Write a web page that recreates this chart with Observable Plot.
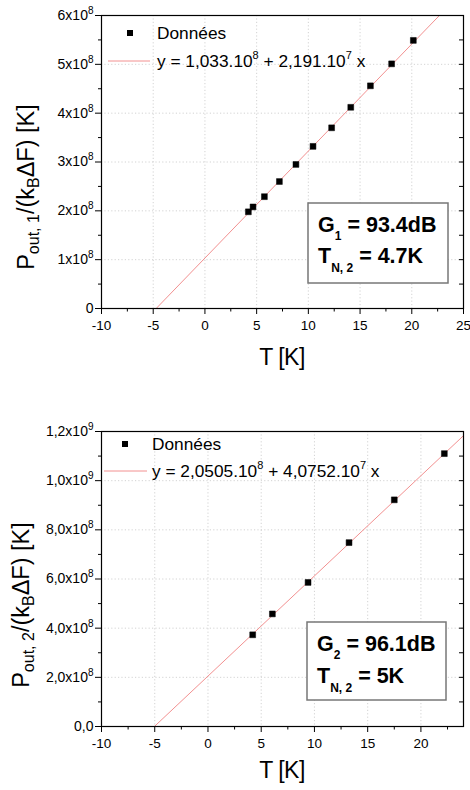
<!DOCTYPE html>
<html><head><meta charset="utf-8">
<script src="https://cdn.jsdelivr.net/npm/d3@7"></script>
<script src="https://cdn.jsdelivr.net/npm/@observablehq/plot@0.6"></script>
<style>
body{margin:0;background:#fff;}
.panel{width:470px;height:395px;}
svg{display:block}
</style></head><body>
<div id="c1" class="panel"></div><div id="c2" class="panel"></div>
<script>
const FONT = '"Liberation Sans", Arial, Helvetica, sans-serif';

// ---------- Panel 1 data ----------
const t1 = [4.2, 4.65, 5.75, 7.2, 8.8, 10.45, 12.25, 14.1, 16.0, 18.05, 20.15];
const p1 = [1.98e8, 2.08e8, 2.29e8, 2.60e8, 2.95e8, 3.32e8, 3.70e8, 4.12e8, 4.56e8, 5.01e8, 5.49e8];
const fit1Intercept = 1.033e8;
const fit1Slope = 2.191e7;
const xTicks1 = [-10, -5, 0, 5, 10, 15, 20, 25];
const yTicks1 = [0, 1e8, 2e8, 3e8, 4e8, 5e8, 6e8];
const yTickLabels1 = ["0", "1x10⁸", "2x10⁸", "3x10⁸", "4x10⁸", "5x10⁸", "6x10⁸"];

// ---------- Panel 2 data ----------
const t2 = [4.2, 6.05, 9.4, 13.25, 17.5, 22.2];
const p2 = [3.73e8, 4.58e8, 5.86e8, 7.48e8, 9.22e8, 1.11e9];
const fit2Intercept = 2.0505e8;
const fit2Slope = 4.0752e7;
const xTicks2 = [-10, -5, 0, 5, 10, 15, 20];
const yTicks2 = [0, 2e8, 4e8, 6e8, 8e8, 1e9, 1.2e9];
const yTickLabels2 = ["0,0", "2,0x10⁸", "4,0x10⁸", "6,0x10⁸", "8,0x10⁸", "1,0x10⁹", "1,2x10⁹"];

const SUP = {"⁰":"0","¹":"1","²":"2","³":"3","⁴":"4","⁵":"5","⁶":"6","⁷":"7","⁸":"8","⁹":"9"};

function minorBetween(ticks, extraEnd) {
  const out = [];
  for (let i = 0; i < ticks.length - 1; i++) out.push((ticks[i] + ticks[i + 1]) / 2);
  if (extraEnd != null) out.push(extraEnd);
  return out;
}

function makePanel(cfg) {
  const data = cfg.t.map((t, i) => ({T: t, P: cfg.p[i]}));
  const [x0, x1] = cfg.xDomain, [y0, y1] = cfg.yDomain;
  const xa = Math.max(x0, (y0 - cfg.b) / cfg.m);
  const xb = Math.min(x1, (y1 - cfg.b) / cfg.m);
  const fit = [xa, xb].map(x => ({T: x, P: cfg.b + cfg.m * x}));
  const yLab = new Map(cfg.yTicks.map((v, i) => [v, cfg.yLabels[i]]));
  const xMinor = minorBetween(cfg.xTicks, cfg.xMinorExtra);
  const yMinor = minorBetween(cfg.yTicks);
  const rightTicks = cfg.yTicks.concat(yMinor);
  const inward = (x1 - x0) * 0.011;
  const gridStyle = {stroke: "#c8c8c8", strokeOpacity: 1, strokeDasharray: "1.2,2.2", strokeWidth: 0.8};

  const svg = Plot.plot({
    width: 470, height: 395,
    marginLeft: 101, marginRight: 7, marginTop: cfg.mt, marginBottom: cfg.mb,
    style: {fontFamily: FONT, background: "#fff", color: "#000"},
    x: {domain: cfg.xDomain, label: null},
    y: {domain: cfg.yDomain, label: null},
    marks: [
      Plot.gridX(cfg.xTicks, gridStyle),
      Plot.gridY(cfg.yTicks, gridStyle),
      Plot.line(fit, {x: "T", y: "P", stroke: "#f29090", strokeWidth: 1, clip: true}),
      Plot.dot(data, {x: "T", y: "P", symbol: "square", r: 3.3, fill: "#000", stroke: "#000", strokeWidth: 0.5}),
      Plot.axisX(cfg.xTicks, {tickSize: 6, tickPadding: 6, fontSize: 13.5, label: null, tickFormat: d => `${d}`}),
      Plot.axisX(xMinor, {tickSize: 3.5, label: null, tickFormat: () => ""}),
      Plot.axisY(cfg.yTicks, {tickSize: 6, tickPadding: 2, fontSize: 14, label: null, tickFormat: d => yLab.get(d)}),
      Plot.axisY(yMinor, {tickSize: 3, label: null, tickFormat: () => ""}),
      Plot.ruleY(rightTicks, {x1: x1 - inward, x2: x1, stroke: "#000", strokeWidth: 1}),
      Plot.frame({stroke: "#000", strokeWidth: 1.2})
    ]
  });

  const s = d3.select(svg);
  // turn unicode superscripts in y tick labels into raised tspans
  s.selectAll("text").each(function() {
    const txt = this.textContent;
    const m = txt.match(/^(.*x10)([⁰¹²³⁴⁵⁶⁷⁸⁹]+)$/);
    if (!m) return;
    const el = d3.select(this);
    el.text(null);
    el.append("tspan").text(m[1]);
    el.append("tspan").attr("font-size", 10).attr("dy", -6).text([...m[2]].map(c => SUP[c]).join(""));
  });

  // y label
  const yl = s.append("text").attr("transform", `translate(${cfg.ylx},${cfg.yly}) rotate(-90)`)
    .attr("text-anchor", "middle").attr("font-family", FONT).attr("font-size", 23.5).attr("fill", "#000");
  yl.append("tspan").text("P");
  yl.append("tspan").attr("font-size", 16).attr("dy", 5).text(cfg.sub);
  yl.append("tspan").attr("dy", -5).text("/(k");
  yl.append("tspan").attr("font-size", 16).attr("dy", 5).text("B");
  yl.append("tspan").attr("dy", -5).text("ΔF) [K]");
  // x label
  s.append("text").attr("x", 282).attr("y", cfg.xly).attr("text-anchor", "middle")
    .attr("font-family", FONT).attr("font-size", 23).attr("letter-spacing", -0.5).attr("fill", "#000").text("T [K]");

  // legend
  const L = cfg.leg;
  s.append("rect").attr("x", L.sx - 3).attr("y", L.sy - 3).attr("width", 6).attr("height", 6).attr("fill", "#000");
  s.append("text").attr("x", L.tx).attr("y", L.sy + 6).attr("text-anchor", "start").attr("font-family", FONT).attr("font-size", 17.3).attr("fill", "#000").text("Données");
  s.append("line").attr("x1", L.lx1).attr("x2", L.lx2).attr("y1", L.ly).attr("y2", L.ly).attr("stroke", "#f29090").attr("stroke-width", 1);
  const eq = s.append("text").attr("x", L.tx).attr("y", L.ly + 6).attr("text-anchor", "start").attr("font-family", FONT).attr("font-size", 17.3).attr("fill", "#000");
  eq.append("tspan").text(cfg.eq[0]);
  eq.append("tspan").attr("font-size", 11).attr("dy", -8).text(cfg.eq[1]);
  eq.append("tspan").attr("dy", 8).text(cfg.eq[2]);
  eq.append("tspan").attr("font-size", 11).attr("dy", -8).text(cfg.eq[3]);
  eq.append("tspan").attr("dy", 8).text(cfg.eq[4]);

  // info box
  const B = cfg.box;
  s.append("rect").attr("x", B.x).attr("y", B.y).attr("width", B.w).attr("height", B.h)
    .attr("fill", "#fff").attr("stroke", "#777").attr("stroke-width", 1.5);
  const g1 = s.append("text").attr("x", B.tx).attr("y", B.b1).attr("text-anchor", "start").attr("font-family", FONT).attr("font-weight", "bold").attr("font-size", 21.5).attr("fill", "#000");
  g1.append("tspan").text("G");
  g1.append("tspan").attr("font-size", 12).attr("dy", 8).text(cfg.gsub);
  g1.append("tspan").attr("dy", -8).text(" = " + cfg.gval);
  const g2 = s.append("text").attr("x", B.tx).attr("y", B.b2).attr("text-anchor", "start").attr("font-family", FONT).attr("font-weight", "bold").attr("font-size", 21.5).attr("fill", "#000");
  g2.append("tspan").text("T");
  g2.append("tspan").attr("font-size", 12).attr("dy", 9).text("N, 2");
  g2.append("tspan").attr("dy", -9).text(" = " + cfg.tval);
  return svg;
}

document.getElementById("c1").appendChild(makePanel({
  t: t1, p: p1, b: fit1Intercept, m: fit1Slope,
  xDomain: [-10, 25], yDomain: [0, 6e8],
  xTicks: xTicks1, xMinorExtra: null, yTicks: yTicks1, yLabels: yTickLabels1,
  mt: 15, mb: 87,
  sub: "out, 1", ylx: 34, yly: 187, xly: 365,
  leg: {sx: 130, sy: 33, tx: 157, lx1: 108, lx2: 150, ly: 61},
  eq: ["y = 1,033.10", "8", " + 2,191.10", "7", " x"],
  box: {x: 308, y: 203, w: 140, h: 80, tx: 318, b1: 232, b2: 263},
  gsub: "1", gval: "93.4dB", tval: "4.7K"
}));

document.getElementById("c2").appendChild(makePanel({
  t: t2, p: p2, b: fit2Intercept, m: fit2Slope,
  xDomain: [-10, 24], yDomain: [0, 1.2e9],
  xTicks: xTicks2, xMinorExtra: 22.5, yTicks: yTicks2, yLabels: yTickLabels2,
  mt: 36, mb: 64,
  sub: "out, 2", ylx: 29, yly: 210, xly: 383,
  leg: {sx: 125, sy: 49, tx: 152, lx1: 104, lx2: 147, ly: 76},
  eq: ["y = 2,0505.10", "8", " + 4,0752.10", "7", " x"],
  box: {x: 307, y: 227, w: 139, h: 78, tx: 317, b1: 256, b2: 288},
  gsub: "2", gval: "96.1dB", tval: "5K"
}));
</script>
</body></html>
